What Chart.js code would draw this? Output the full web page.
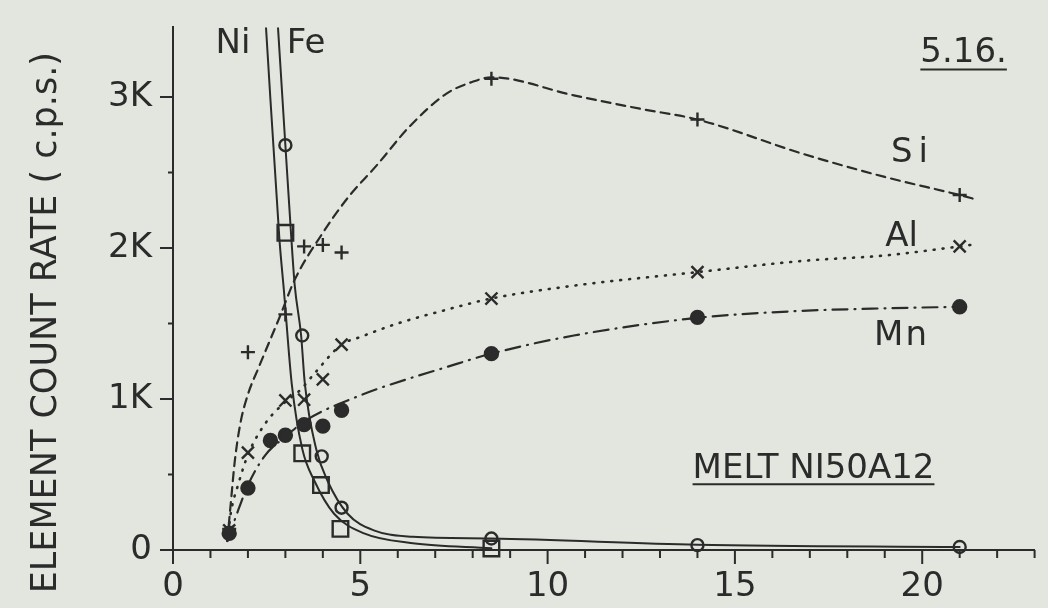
<!DOCTYPE html>
<html>
<head>
<meta charset="utf-8">
<title>Melt NI50A12</title>
<script src="https://cdn.jsdelivr.net/npm/chart.js@4.4.0/dist/chart.umd.min.js"></script>
<style>
  html, body { margin: 0; padding: 0; background: #e3e6de; }
  #grafico { display: block; }
</style>
</head>
<body>
<canvas id="grafico" width="1048" height="608"></canvas>
<script>
// measured points, count rate in c.p.s.
var siX = [1.5, 2, 3, 3.5, 4, 4.5, 8.5, 14, 21];
var siY = [140, 1310, 1560, 2010, 2020, 1970, 3120, 2850, 2350];
var alX = [1.5, 2, 3, 3.5, 4, 4.5, 8.5, 14, 21];
var alY = [130, 645, 990, 995, 1130, 1360, 1665, 1840, 2010];
var mnX = [1.5, 2, 2.6, 3, 3.5, 4, 4.5, 8.5, 14, 21];
var mnY = [110, 410, 725, 760, 830, 820, 925, 1300, 1540, 1610];
var niX = [3, 3.45, 3.95, 4.47, 8.5];
var niY = [2100, 640, 430, 140, 10];
var feX = [3, 3.45, 3.97, 4.5, 8.5, 14, 21];
var feY = [2680, 1420, 620, 280, 76, 32, 20];

// hand drawn trend curves
var siCurvaX = [1.45, 1.55, 1.65, 1.8, 2.0, 2.29, 2.86, 3.25, 4.0, 4.66, 5.45, 6.3, 7.29, 8.0, 8.5, 10.7, 12.5, 14, 16.85, 19, 21, 21.45];
var siCurvaY = [60, 330, 590, 840, 1030, 1210, 1550, 1790, 2100, 2330, 2550, 2800, 3020, 3100, 3130, 3010, 2920, 2850, 2620, 2470, 2350, 2320];
var alCurvaX = [1.45, 1.54, 1.76, 2.0, 2.47, 3.0, 3.4, 3.78, 4.5, 5.0, 6.0, 7.29, 8.5, 10.7, 14, 16.85, 19, 21, 21.3];
var alCurvaY = [60, 240, 450, 630, 840, 980, 1060, 1170, 1360, 1410, 1500, 1590, 1665, 1750, 1840, 1915, 1950, 2010, 2020];
var mnCurvaX = [1.45, 1.75, 2.0, 2.47, 3.0, 3.5, 4.0, 4.66, 5.5, 7.29, 8.5, 10.7, 14, 16.5, 19, 21];
var mnCurvaY = [60, 270, 430, 630, 750, 850, 920, 990, 1070, 1210, 1300, 1420, 1537, 1580, 1600, 1610];
var niCurvaX = [2.48, 2.84, 2.96, 3.17, 3.45, 3.78, 4.3, 5.1, 6.4, 8.5];
var niCurvaY = [3470, 2060, 1720, 1100, 670, 455, 240, 110, 45, 12];
var feCurvaX = [2.80, 3.0, 3.16, 3.25, 3.42, 3.52, 3.82, 4.13, 4.66, 5.36, 6.4, 8.5, 14, 21];
var feCurvaY = [3470, 2680, 2060, 1750, 1420, 1100, 670, 455, 240, 130, 87, 76, 35, 20];

// axis ranges and tick labels
var xMax = 23;
var yMax = 3460;
var xPasso = 1;
var yPasso = 500;
var yRotulos = {0: '0', 1000: '1K', 2000: '2K', 3000: '3K'};

var TINTA = '#2b2b2b';
var FONTE = "'DejaVu Sans', sans-serif";

function pares(xs, ys) {
	return xs.map(function(x, i) { return {x: x, y: ys[i]}; });
}

function pontos(xs, ys, estilo, raio, cheio) {
	return {
		data: pares(xs, ys),
		showLine: false,
		pointStyle: estilo,
		pointRadius: raio,
		pointBorderWidth: 2.4,
		pointBorderColor: TINTA,
		pointBackgroundColor: cheio ? TINTA : 'rgba(0,0,0,0)',
		clip: false
	};
}

function curva(xs, ys, traco, largura) {
	return {
		data: pares(xs, ys),
		showLine: true,
		pointRadius: 0,
		borderColor: TINTA,
		borderWidth: largura,
		borderDash: traco,
		borderCapStyle: 'round',
		cubicInterpolationMode: 'monotone',
		fill: false
	};
}

// one tick per step, starting at zero
function marcas(passo, limite) {
	return function(scale) {
		var lista = [];
		for (var v = 0; v <= limite + 1e-9; v += passo) {
			lista.push({value: v});
		}
		scale.ticks = lista;
	};
}

// labels, axis title and tick marks drawn over the chart
var anotacoes = {
	id: 'anotacoes',
	afterDraw: function(chart) {
		var ctx = chart.ctx;
		var sx = chart.scales.x, sy = chart.scales.y;
		ctx.save();
		ctx.strokeStyle = TINTA;
		ctx.fillStyle = TINTA;
		ctx.lineWidth = 2;

		ctx.beginPath();
		sx.ticks.forEach(function(t) {
			var px = sx.getPixelForValue(t.value);
			ctx.moveTo(px, sy.bottom);
			ctx.lineTo(px, sy.bottom + (t.value % 5 === 0 ? 14 : 8));
		});
		sy.ticks.forEach(function(t) {
			var py = sy.getPixelForValue(t.value);
			ctx.moveTo(sx.left, py);
			ctx.lineTo(sx.left - (t.value % 1000 === 0 ? 13 : 5), py);
		});
		ctx.stroke();

		ctx.font = '34px ' + FONTE;
		ctx.textAlign = 'center';
		ctx.textBaseline = 'alphabetic';
		var rotulos = [
			{t: 'Ni', x: 1.6, y: 3370, esp: 0},
			{t: 'Fe', x: 3.55, y: 3370, esp: 0},
			{t: 'Si', x: 19.66, y: 2650, esp: 6},
			{t: 'Al', x: 19.45, y: 2090, esp: 0},
			{t: 'Mn', x: 19.42, y: 1435, esp: 2}
		];
		rotulos.forEach(function(r) {
			ctx.letterSpacing = r.esp + 'px';
			ctx.fillText(r.t, sx.getPixelForValue(r.x) + r.esp / 2, sy.getPixelForValue(r.y) + 12);
		});
		ctx.letterSpacing = '0px';

		ctx.textAlign = 'left';
		var sublinhados = [
			{t: '5.16.', x: 19.95, y: 3233, linha: 3181},
			{t: 'MELT NI50A12', x: 13.87, y: 480, linha: 435}
		];
		sublinhados.forEach(function(s) {
			var px = sx.getPixelForValue(s.x);
			ctx.fillText(s.t, px, sy.getPixelForValue(s.y));
			var w = ctx.measureText(s.t).width;
			var ly = sy.getPixelForValue(s.linha);
			ctx.beginPath();
			ctx.moveTo(px, ly);
			ctx.lineTo(px + w, ly);
			ctx.stroke();
		});

		ctx.font = '35px ' + FONTE;
		ctx.translate(56, (sy.top + sy.bottom) / 2 + 34);
		ctx.rotate(-Math.PI / 2);
		ctx.textAlign = 'center';
		ctx.fillText('ELEMENT COUNT RATE ( c.p.s.)', 0, 0);
		ctx.restore();
	}
};

var grafico = new Chart(document.getElementById('grafico').getContext('2d'), {
	type: 'scatter',
	data: {
		datasets: [
			pontos(siX, siY, 'cross', 7, true),
			pontos(alX, alY, 'crossRot', 8.5, true),
			pontos(mnX, mnY, 'circle', 6.5, true),
			pontos(feX, feY, 'circle', 6, false),
			pontos(niX, niY, 'rect', 11, false),
			curva(siCurvaX, siCurvaY, [9, 6], 2.2),
			curva(alCurvaX, alCurvaY, [1, 8], 2.6),
			curva(mnCurvaX, mnCurvaY, [15, 7, 1, 7], 2.2),
			curva(niCurvaX, niCurvaY, [], 2),
			curva(feCurvaX, feCurvaY, [], 2)
		]
	},
	options: {
		responsive: false,
		animation: false,
		devicePixelRatio: 1,
		layout: { padding: { top: 17, right: 1, left: 0, bottom: 0 } },
		plugins: {
			legend: { display: false },
			tooltip: { enabled: false }
		},
		scales: {
			x: {
				type: 'linear',
				min: 0,
				max: xMax,
				afterBuildTicks: marcas(xPasso, xMax),
				afterFit: function(scale) { scale.height = 58; },
				border: { display: true, color: TINTA, width: 2 },
				grid: { display: true, drawOnChartArea: false, drawTicks: true, tickLength: 14, color: 'rgba(0,0,0,0)' },
				ticks: {
					autoSkip: false,
					maxRotation: 0,
					padding: 3,
					color: TINTA,
					font: { family: FONTE, size: 34 },
					callback: function(v) { return v % 5 === 0 ? String(v) : ''; }
				}
			},
			y: {
				type: 'linear',
				min: 0,
				max: yMax,
				afterBuildTicks: marcas(yPasso, yMax),
				afterFit: function(scale) { scale.width = 173; },
				border: { display: true, color: TINTA, width: 2 },
				grid: { display: true, drawOnChartArea: false, drawTicks: true, tickLength: 14, color: 'rgba(0,0,0,0)' },
				ticks: {
					autoSkip: false,
					padding: 7,
					color: TINTA,
					font: { family: FONTE, size: 34 },
					callback: function(v) { return yRotulos[v] !== undefined ? yRotulos[v] : ''; }
				}
			}
		}
	},
	plugins: [anotacoes]
});
</script>
</body>
</html>
